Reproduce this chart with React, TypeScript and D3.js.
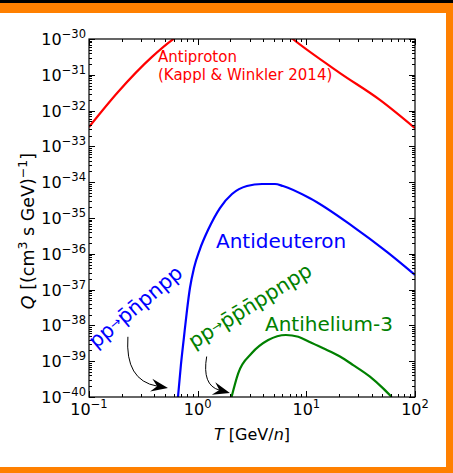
import React from 'react';
import * as d3 from 'd3';

// Source spectra Q(T), kinetic energy per nucleon T in GeV/n
const antiprotonT = [0.1, 0.185, 0.38, 0.58, 1.0, 2.0, 3.5, 5.2, 7.5, 20.4, 47.5, 100];
const antiprotonQ = [3.47e-33, 3.31e-32, 3.16e-31, 9.3e-31, 2.5e-30, 5.0e-30, 5.0e-30, 2.5e-30, 1.0e-30, 1.12e-31, 2.0e-32, 3.24e-33];

const antideuteronT = [0.659, 0.701, 0.748, 0.798, 0.849, 0.925, 1.05, 1.245, 1.603, 2.07, 2.84, 3.91, 5.14, 6.1, 10.8, 26.9, 54.8, 100];
const antideuteronQ = [1e-40, 7.83e-40, 4.74e-39, 2.69e-38, 1.11e-37, 4.01e-37, 1.36e-36, 4.62e-36, 1.9e-35, 4.68e-35, 7.83e-35, 8.91e-35, 8.91e-35, 7.83e-35, 3.55e-35, 5.75e-36, 1.15e-36, 2.57e-37];

const antiheliumT = [2.05, 2.36, 3.14, 4.46, 6.49, 8.43, 10.6, 14.3, 20.4, 27.0, 38.5, 50.9, 61.0];
const antiheliumQ = [1e-40, 4.6e-40, 1.66e-39, 3.9e-39, 5.4e-39, 4.8e-39, 3.5e-39, 2.3e-39, 1.35e-39, 7.8e-40, 3.7e-40, 1.74e-40, 1e-40];

// Axis ticks
const xTickExponents = [-1, 0, 1, 2];
const yTickExponents = [-30, -31, -32, -33, -34, -35, -36, -37, -38, -39, -40];

// Threshold annotations: arrow tail and tip in (T, Q)
const antideuteronArrow = { tail: [0.228, 4.8e-39], tip: [0.533, 1.78e-40] };
const antiheliumArrow = { tail: [1.21, 1.35e-39], tip: [1.98, 1.29e-40] };

const FONT = 'DejaVu Sans, Verdana, sans-serif';
const W = 453;
const H = 473;
const plot = { left: 89, right: 415, top: 39, bottom: 397 };

const x = d3.scaleLog().domain([0.1, 100]).range([plot.left, plot.right]);
const y = d3.scaleLog().domain([1e-40, 1e-30]).range([plot.bottom, plot.top]);

const line = d3
  .line<[number, number]>()
  .x((d) => x(d[0]))
  .y((d) => y(d[1]))
  .curve(d3.curveMonotoneX);

const zip = (a: number[], b: number[]) => a.map((v, i) => [v, b[i]] as [number, number]);

const minus = (n: number) => (n < 0 ? '\u2212' + Math.abs(n) : String(n));

function Arrow({ tail, tip, rad }: { tail: number[]; tip: number[]; rad: number }) {
  const x1 = x(tail[0]);
  const y1 = y(tail[1]);
  const x2 = x(tip[0]);
  const y2 = y(tip[1]);
  const dx = x2 - x1;
  const dy = y2 - y1;
  const cx = (x1 + x2) / 2 + rad * dy;
  const cy = (y1 + y2) / 2 - rad * dx;
  // arrow head oriented along the end tangent
  const tx = x2 - cx;
  const ty = y2 - cy;
  const len = Math.hypot(tx, ty);
  const ux = tx / len;
  const uy = ty / len;
  const px = -uy;
  const py = ux;
  const hl = 17;
  const hw = 6.5;
  const notch = 11;
  const head = [
    [x2, y2],
    [x2 - ux * hl + px * hw, y2 - uy * hl + py * hw],
    [x2 - ux * notch, y2 - uy * notch],
    [x2 - ux * hl - px * hw, y2 - uy * hl - py * hw],
  ];
  const ex = x2 - ux * notch;
  const ey = y2 - uy * notch;
  return (
    <g>
      <path d={`M${x1},${y1} Q${cx},${cy} ${ex},${ey}`} fill="none" stroke="black" strokeWidth={1} />
      <polygon points={head.map((p) => p.join(',')).join(' ')} fill="black" />
    </g>
  );
}

export default function App() {
  const xMinor: number[] = [];
  for (let e = -1; e < 2; e++) for (let k = 2; k <= 9; k++) xMinor.push(k * Math.pow(10, e));
  const yMinor: number[] = [];
  for (let e = -40; e < -30; e++) for (let k = 2; k <= 9; k++) yMinor.push(k * Math.pow(10, e));

  const majorLen = 6;
  const minorLen = 3;
  const tickFont = 16;
  const supFont = 11.5;

  return (
    <svg
      width={W}
      height={H}
      viewBox={`0 0 ${W} ${H}`}
      style={{ position: 'absolute', left: 0, top: 0, background: 'white' }}
      fontFamily={FONT}
    >
      <defs>
        <clipPath id="plotArea">
          <rect x={plot.left} y={plot.top} width={plot.right - plot.left} height={plot.bottom - plot.top} />
        </clipPath>
      </defs>

      {/* outer frame */}
      <rect x={0} y={0} width={W} height={H} fill="white" />
      <rect x={0} y={3} width={W} height={10} fill="#ff8000" />
      <rect x={446} y={3} width={7} height={H - 3} fill="#ff8000" />
      <rect x={0} y={467} width={W} height={6} fill="#ff8000" />
      <rect x={0} y={0} width={W} height={3} fill="black" />

      {/* curves */}
      <g clipPath="url(#plotArea)" fill="none" strokeWidth={2.2} strokeLinejoin="round">
        <path d={line(zip(antiprotonT, antiprotonQ)) || ''} stroke="#ff0000" />
        <path d={line(zip(antideuteronT, antideuteronQ)) || ''} stroke="#0000ff" />
        <path d={line(zip(antiheliumT, antiheliumQ)) || ''} stroke="#008000" />
      </g>

      {/* ticks */}
      <g stroke="black" strokeWidth={1}>
        {xTickExponents.map((e) => {
          const px = Math.round(x(Math.pow(10, e))) + 0.5;
          return (
            <g key={'xM' + e}>
              <line x1={px} x2={px} y1={plot.bottom} y2={plot.bottom - majorLen} />
              <line x1={px} x2={px} y1={plot.top} y2={plot.top + majorLen} />
            </g>
          );
        })}
        {xMinor.map((v, i) => {
          const px = Math.round(x(v)) + 0.5;
          return (
            <g key={'xm' + i}>
              <line x1={px} x2={px} y1={plot.bottom} y2={plot.bottom - minorLen} />
              <line x1={px} x2={px} y1={plot.top} y2={plot.top + minorLen} />
            </g>
          );
        })}
        {yTickExponents.map((e) => {
          const py = Math.round(y(Math.pow(10, e))) + 0.5;
          return (
            <g key={'yM' + e}>
              <line y1={py} y2={py} x1={plot.left} x2={plot.left + majorLen} />
              <line y1={py} y2={py} x1={plot.right} x2={plot.right - majorLen} />
            </g>
          );
        })}
        {yMinor.map((v, i) => {
          const py = Math.round(y(v)) + 0.5;
          return (
            <g key={'ym' + i}>
              <line y1={py} y2={py} x1={plot.left} x2={plot.left + minorLen} />
              <line y1={py} y2={py} x1={plot.right} x2={plot.right - minorLen} />
            </g>
          );
        })}
      </g>

      {/* axes frame */}
      <rect
        x={plot.left}
        y={plot.top}
        width={plot.right - plot.left}
        height={plot.bottom - plot.top}
        fill="none"
        stroke="black"
        strokeWidth={1.2}
      />

      {/* tick labels */}
      <g fontSize={tickFont} fill="black">
        {xTickExponents.map((e) => (
          <text key={'xl' + e} x={x(Math.pow(10, e))} y={plot.bottom + 18} textAnchor="middle">
            10
            <tspan dy={-7} fontSize={supFont}>
              {minus(e)}
            </tspan>
          </text>
        ))}
        {yTickExponents.map((e) => (
          <text key={'yl' + e} x={plot.left - 3} y={y(Math.pow(10, e)) + 6} textAnchor="end">
            10
            <tspan dy={-7} fontSize={supFont}>
              {minus(e)}
            </tspan>
          </text>
        ))}
      </g>

      {/* axis titles */}
      <text x={(plot.left + plot.right) / 2} y={440} textAnchor="middle" fontSize={16}>
        <tspan fontStyle="italic">T</tspan> [GeV/<tspan fontStyle="italic">n</tspan>]
      </text>
      <text transform="translate(34,231) rotate(-90)" textAnchor="middle" fontSize={17.5}>
        <tspan fontStyle="italic">Q</tspan> [(cm<tspan dy={-7} fontSize={12.5}>3</tspan>
        <tspan dy={7}> s GeV)</tspan>
        <tspan dy={-7} fontSize={12.5}>−1</tspan>
        <tspan dy={7}>]</tspan>
      </text>

      {/* species labels */}
      <g fontSize={15} fill="#ff0000">
        <text x={158} y={62}>Antiproton</text>
        <text x={158} y={80}>(Kappl &amp; Winkler 2014)</text>
      </g>
      <text x={216} y={248} fontSize={20} fill="#0000ff">
        Antideuteron
      </text>
      <text x={265} y={331} fontSize={20} fill="#008000">
        Antihelium-3
      </text>

      {/* production channels */}
      <text transform="translate(96,349) rotate(-40)" fontSize={20.5} fill="#0000ff">
        pp<tspan fontSize={13} dy={-3}>{'\u2192'}</tspan>
        <tspan dy={3}>{'p\u0304n\u0304pnpp'}</tspan>
      </text>
      <text transform="translate(194,349) rotate(-32)" fontSize={20.5} fill="#008000">
        pp<tspan fontSize={13} dy={-3}>{'\u2192'}</tspan>
        <tspan dy={3}>{'p\u0304p\u0304n\u0304ppnpp'}</tspan>
      </text>

      <Arrow tail={antideuteronArrow.tail} tip={antideuteronArrow.tip} rad={-0.45} />
      <Arrow tail={antiheliumArrow.tail} tip={antiheliumArrow.tip} rad={-0.45} />
    </svg>
  );
}
